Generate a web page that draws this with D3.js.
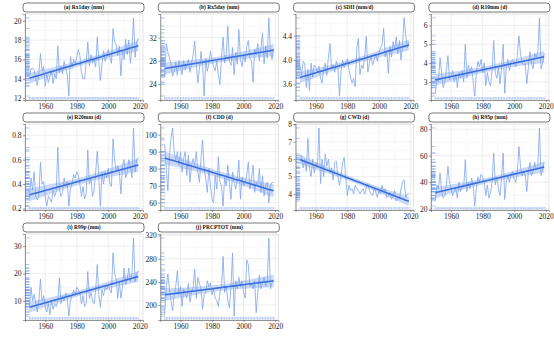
<!DOCTYPE html>
<html>
<head>
<meta charset="utf-8">
<script src="https://cdn.jsdelivr.net/npm/d3@7"></script>
<style>
  body { margin: 0; background: #fff; }
</style>
</head>
<body>
<div id="chart"></div>
<script>
// years 1950-2019
const years = d3.range(1950, 2020);

const rx1day = [
  14.2,15.0,15.1,14.9,14.0,13.3,14.6,16.6,14.8,15.3,
  13.2,14.4,13.6,14.3,14.8,13.5,14.5,14.0,17.4,14.6,
  15.3,14.5,15.8,15.0,14.4,12.2,16.3,15.2,16.0,15.6,
  16.2,17.0,16.4,14.6,14.0,14.0,15.6,17.8,15.3,16.5,
  15.6,16.0,15.2,18.3,15.8,13.8,15.5,16.9,15.8,16.4,
  17.0,16.2,15.6,19.2,17.8,17.6,16.4,17.4,14.3,17.0,
  16.0,18.1,16.5,18.0,15.6,17.2,20.3,16.2,17.8,18.2
];
const rx5day = [
  25.2,31.0,29.5,28.5,27.4,25.3,26.2,27.8,25.5,28.0,
  27.0,25.6,28.0,26.4,27.3,28.2,26.0,27.6,29.0,31.4,
  27.5,24.2,26.5,29.6,27.2,21.9,28.4,26.2,27.5,29.6,
  28.2,27.0,26.3,28.0,25.5,23.9,28.6,32.1,27.6,29.0,
  34.0,28.0,27.2,30.3,25.6,29.5,27.4,33.4,28.2,27.0,
  29.2,27.8,30.5,31.5,28.5,28.0,24.3,30.0,29.0,31.0,
  28.0,30.2,32.8,27.5,30.6,28.4,35.4,29.8,28.2,30.0
];
const sdii = [
  3.90,3.75,3.98,3.95,3.55,3.85,3.50,3.95,3.72,3.92,
  3.88,3.80,3.90,3.70,3.62,3.85,3.95,3.75,4.05,4.27,
  3.85,3.92,3.80,3.98,3.90,3.41,3.82,4.00,3.88,3.95,
  4.02,3.85,3.72,3.62,3.70,3.56,4.20,4.35,3.76,3.92,
  3.86,4.05,4.39,3.80,3.95,4.08,3.92,4.00,4.10,3.98,
  4.12,4.20,4.25,4.52,4.05,4.15,3.78,4.22,4.05,4.30,
  4.18,4.38,4.10,4.32,4.00,4.25,4.69,4.40,4.20,4.30
];
const r10mm = [
  2.4,3.2,3.0,4.3,3.5,2.7,3.0,3.6,4.4,3.1,
  3.3,3.6,3.0,3.4,2.7,3.5,3.2,3.6,3.0,5.0,
  3.2,3.9,3.5,3.8,3.0,2.25,3.5,4.1,3.8,4.2,
  3.5,4.0,2.8,3.5,3.0,2.8,3.6,5.2,3.5,3.2,
  3.8,2.9,3.8,5.0,2.4,3.8,4.2,3.6,4.1,4.2,
  4.0,3.8,4.4,5.45,4.5,4.0,3.9,4.0,2.9,3.8,
  4.6,4.0,3.7,4.5,4.3,4.6,6.4,3.7,4.0,4.5
];
const r20mm = [
  0.28,0.45,0.35,0.50,0.30,0.27,0.30,0.58,0.40,0.42,
  0.30,0.22,0.30,0.28,0.25,0.35,0.30,0.34,0.70,0.36,
  0.30,0.33,0.45,0.38,0.42,0.22,0.36,0.40,0.48,0.45,
  0.50,0.47,0.40,0.30,0.38,0.28,0.32,0.68,0.40,0.45,
  0.30,0.35,0.50,0.67,0.45,0.22,0.50,0.40,0.50,0.45,
  0.53,0.40,0.38,0.77,0.60,0.50,0.55,0.50,0.32,0.55,
  0.60,0.45,0.50,0.60,0.55,0.45,0.86,0.50,0.60,0.62
];
const cdd = [
  94,80,67,88,98,104,90,85,90,82,
  90,78,86,90,76,88,72,82,86,82,
  90,78,72,86,97,80,74,66,80,70,
  62,60,76,68,87,72,70,58,75,70,
  82,72,62,78,72,68,74,85,62,75,
  70,72,76,84,68,74,82,66,72,70,
  80,66,76,64,70,72,60,70,72,72
];
const cwd = [
  6.2,6.2,5.5,6.0,5.3,7.2,5.5,5.0,6.0,5.2,
  5.8,5.5,7.8,4.6,6.0,5.0,6.3,5.6,6.0,5.2,
  5.5,4.8,5.8,5.9,5.0,4.5,5.0,5.8,6.1,4.9,
  3.9,4.5,4.2,4.3,4.0,4.5,4.3,4.2,4.0,4.2,
  4.3,4.0,4.4,4.6,4.2,4.0,3.9,4.3,4.1,3.8,
  4.2,4.0,4.5,4.1,4.3,3.8,3.9,4.1,3.7,3.9,
  4.2,3.6,3.8,3.7,4.3,4.7,4.8,3.8,4.0,4.0
];
const r95p = [
  26,38,35,47,33,28,30,38,52,40,
  35,30,33,35,28,40,33,38,36,57,
  33,40,35,43,38,22,35,44,40,46,
  44,40,30,38,28,32,40,62,38,44,
  35,30,44,62,27,40,45,40,46,48,
  42,40,48,67,52,45,48,45,33,48,
  55,45,48,55,50,52,81,45,50,55
];
const r99p = [
  8,15,10,12.5,9,6,10,18,10,12,
  8,6,9,5,10,7,9,8,10,18.5,
  9,12,10,13,11,4.5,10,12,14,12,
  15,14,13,9,12,8,9,20.8,11,13,
  10,9,14,23.3,12,7.7,14,12,15,14,
  16,14,13,27.5,20,18,11,17,11,15,
  22,16,18,22,17,20,33,17,20,21
];
const prcptot = [
  184,232,254,228,208,190,218,232,259,218,
  232,198,228,220,212,238,205,222,230,262,
  212,248,238,228,193,218,222,242,232,238,
  218,228,212,208,198,222,232,284,222,232,
  208,195,232,290,181,242,228,248,232,242,
  222,212,278,270,232,238,228,242,187,222,
  252,228,238,248,232,238,316,228,238,244
];

const titles = ["(a) Rx1day (mm)", "(b) Rx5day (mm)", "(c) SDII (mm/d)", "(d) R10mm (d)",
  "(e) R20mm (d)", "(f) CDD (d)", "(g) CWD (d)", "(h) R95p (mm)",
  "(i) R99p (mm)", "(j) PRCPTOT (mm)"];
const series = [rx1day, rx5day, sdii, r10mm, r20mm, cdd, cwd, r95p, r99p, prcptot];
const yTicks = [
  [12, 14, 16, 18, 20],
  [24, 28, 32],
  [3.6, 4.0, 4.4],
  [3, 4, 5, 6],
  [0.2, 0.4, 0.6, 0.8],
  [60, 70, 80, 90, 100],
  [4, 5, 6, 7, 8],
  [20, 40, 60, 80],
  [10, 20, 30],
  [200, 240, 280, 320]
];
const xTicks = [1960, 1980, 2000, 2020];

const W = 554, H = 342;
const pw = 118, ph = 86;
const col0 = 25, colStep = 135.3;
const row0 = 14, rowStep = 110;

const lineColor = "#7ea5ee";
const trendColor = "#3b6fdc";
const bandColor = "#9fbaf2";
const font = "'Liberation Serif', 'Times New Roman', serif";

const svg = d3.select("#chart").append("svg")
  .attr("width", W)
  .attr("height", H)
  .style("background", "#fff");

// simple lm fit with 95% confidence band, like geom_smooth(method = "lm")
function fitLm(xs, ys) {
  const n = xs.length;
  const xm = d3.mean(xs), ym = d3.mean(ys);
  let sxx = 0, sxy = 0;
  xs.forEach((x, i) => { sxx += (x - xm) ** 2; sxy += (x - xm) * (ys[i] - ym); });
  const b = sxy / sxx, a = ym - b * xm;
  let sse = 0;
  xs.forEach((x, i) => { sse += (ys[i] - (a + b * x)) ** 2; });
  const s = Math.sqrt(sse / (n - 2));
  const t = 1.995;
  return xs.map(x => {
    const fit = a + b * x;
    const se = s * Math.sqrt(1 / n + (x - xm) ** 2 / sxx);
    return { x: x, fit: fit, lo: fit - t * se, hi: fit + t * se };
  });
}

series.forEach(function (vals, i) {
  const col = i % 4, row = Math.floor(i / 4);
  const left = col0 + col * colStep;
  const top = row0 + row * rowStep;

  const g = svg.append("g").attr("transform", `translate(${left},${top})`);

  const data = years.map((yr, k) => ({ year: yr, v: vals[k] }));
  const fit = fitLm(years, vals);

  const x = d3.scaleLinear()
    .domain([1947.2, 2022.0])
    .range([0, pw]);

  const lo = Math.min(d3.min(vals), d3.min(fit, d => d.lo));
  const hi = Math.max(d3.max(vals), d3.max(fit, d => d.hi));
  const pad = (hi - lo) * 0.05;
  const y = d3.scaleLinear()
    .domain([lo - pad, hi + pad])
    .range([ph, 0]);

  // strip
  svg.append("rect")
    .attr("x", left - 2)
    .attr("y", top - 11)
    .attr("width", pw + 3)
    .attr("height", 9)
    .attr("rx", 3)
    .attr("fill", "#fff")
    .attr("stroke", "#555")
    .attr("stroke-width", 0.8);
  svg.append("text")
    .attr("x", left + pw / 2)
    .attr("y", top - 4.6)
    .attr("text-anchor", "middle")
    .style("font-family", font)
    .style("font-weight", "bold")
    .style("font-size", "5.5px")
    .style("fill", "#111")
    .text(titles[i]);

  // minor + major grid
  const yt = yTicks[i];
  const yStep = yt[1] - yt[0];
  const minorY = d3.range(yt[0] - yStep / 2, yt[yt.length - 1] + yStep, yStep)
    .filter(v => v > y.domain()[0] && v < y.domain()[1]);
  const minorX = [1950, 1970, 1990, 2010];

  g.selectAll(".gminy").data(minorY).join("line")
    .attr("x1", 0).attr("x2", pw)
    .attr("y1", d => y(d)).attr("y2", d => y(d))
    .attr("stroke", "#f1f1f1").attr("stroke-width", 0.4);
  g.selectAll(".gminx").data(minorX).join("line")
    .attr("x1", d => x(d)).attr("x2", d => x(d))
    .attr("y1", 0).attr("y2", ph)
    .attr("stroke", "#f1f1f1").attr("stroke-width", 0.4);
  g.selectAll(".gmajy").data(yt).join("line")
    .attr("x1", 0).attr("x2", pw)
    .attr("y1", d => y(d)).attr("y2", d => y(d))
    .attr("stroke", "#e4e4e4").attr("stroke-width", 0.6);
  g.selectAll(".gmajx").data(xTicks).join("line")
    .attr("x1", d => x(d)).attr("x2", d => x(d))
    .attr("y1", 0).attr("y2", ph)
    .attr("stroke", "#e4e4e4").attr("stroke-width", 0.6);

  // confidence band
  const band = d3.area()
    .x(d => x(d.x))
    .y0(d => y(d.lo))
    .y1(d => y(d.hi));
  g.append("path")
    .datum(fit)
    .attr("fill", bandColor)
    .attr("opacity", 0.55)
    .attr("d", band);

  // data line
  const line = d3.line()
    .x(d => x(d.year))
    .y(d => y(d.v));
  g.append("path")
    .datum(data)
    .attr("fill", "none")
    .attr("stroke", lineColor)
    .attr("stroke-width", 0.8)
    .attr("d", line);

  // trend line
  g.append("path")
    .datum(fit)
    .attr("fill", "none")
    .attr("stroke", trendColor)
    .attr("stroke-width", 1.6)
    .attr("d", d3.line().x(d => x(d.x)).y(d => y(d.fit)));

  // rugs
  g.selectAll(".rugy").data(data).join("line")
    .attr("x1", 0.5).attr("x2", 4.5)
    .attr("y1", d => y(d.v)).attr("y2", d => y(d.v))
    .attr("stroke", lineColor).attr("stroke-width", 0.6);
  g.selectAll(".rugx").data(data).join("line")
    .attr("x1", d => x(d.year)).attr("x2", d => x(d.year))
    .attr("y1", ph - 0.5).attr("y2", ph - 3)
    .attr("stroke", lineColor).attr("stroke-width", 0.6);

  // panel border
  g.append("rect")
    .attr("width", pw).attr("height", ph)
    .attr("fill", "none")
    .attr("stroke", "#c8c8c8")
    .attr("stroke-width", 0.5);

  // axes
  const yAxis = g.append("g")
    .call(d3.axisLeft(y).tickValues(yt).tickSize(2).tickPadding(1.5)
      .tickFormat(d => (yStep < 1 ? d3.format(".1f")(d) : d)));
  const xAxis = g.append("g")
    .attr("transform", `translate(0,${ph})`)
    .call(d3.axisBottom(x).tickValues(xTicks).tickSize(2).tickPadding(1.5).tickFormat(d3.format("d")));

  [yAxis, xAxis].forEach(ax => {
    ax.select(".domain").attr("stroke", "#555").attr("stroke-width", 0.6);
    ax.selectAll(".tick line").attr("stroke", "#555").attr("stroke-width", 0.6);
    ax.selectAll(".tick text")
      .style("font-family", font)
      .style("font-size", "7.5px")
      .attr("fill", "#222");
  });
});
</script>
</body>
</html>
